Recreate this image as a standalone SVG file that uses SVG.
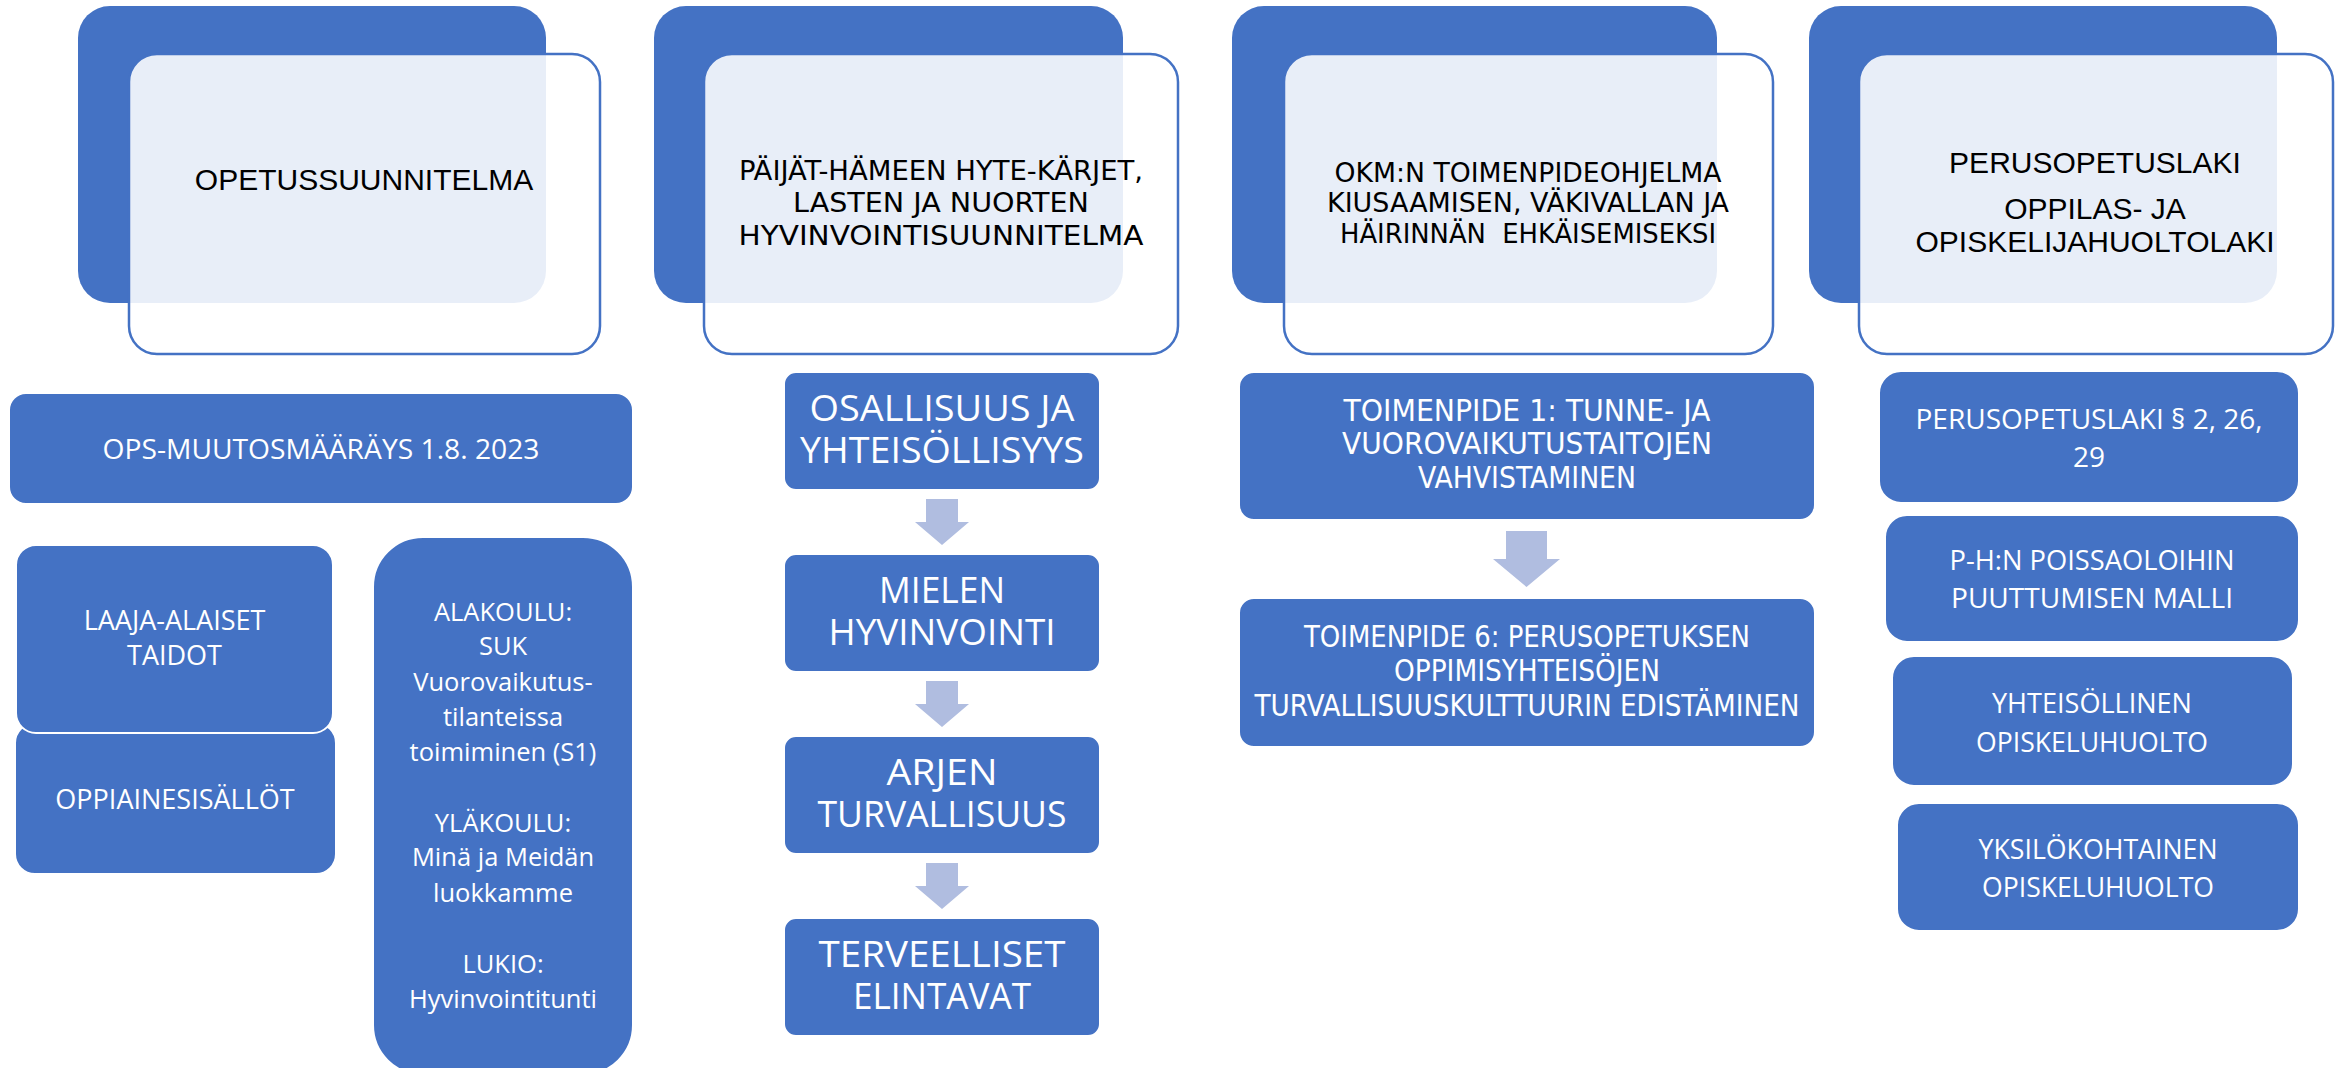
<svg xmlns="http://www.w3.org/2000/svg" width="2341" height="1068" viewBox="0 0 2341 1068">
<style>
.back{fill:#4472C4}
.front{fill:#fff;fill-opacity:.88;stroke:#4472C4;stroke-width:2.5}
.box{fill:#4472C4;stroke:#fff;stroke-width:2}
.arrow{fill:#B0BDE0}
.hdA{font-family:"Liberation Sans",Arial,sans-serif;font-size:30px;fill:#000;text-anchor:middle}
.hdT{font-family:"DejaVu Sans Condensed","DejaVu Sans",sans-serif;font-size:27px;fill:#000;text-anchor:middle}
.wt{font-family:"Open Sans","Noto Sans",sans-serif;fill:#fff;text-anchor:middle}
.s28{font-size:28px}
.s27{font-size:27px}
.s25{font-size:25.5px}
.big{font-family:"Open Sans","Noto Sans",sans-serif;font-size:36px;fill:#fff;text-anchor:middle}
.cond{font-family:"DejaVu Sans Condensed","DejaVu Sans",sans-serif;font-size:30px;fill:#fff;text-anchor:middle}
</style>
<rect width="2341" height="1068" fill="#fff"/>

<g id="ops-header">
<rect class="back" x="78" y="6" width="468" height="297" rx="32"/>
<rect class="front" x="129" y="54" width="471" height="300" rx="28"/>
<text class="hdA" x="364" y="190">OPETUSSUUNNITELMA</text>
</g>

<g id="hyte-header">
<rect class="back" x="654" y="6" width="469" height="297" rx="32"/>
<rect class="front" x="704" y="54" width="474" height="300" rx="28"/>
<text class="hdT" x="941" y="180" textLength="404" lengthAdjust="spacingAndGlyphs">PÄIJÄT-HÄMEEN HYTE-KÄRJET,</text>
<text class="hdT" x="941" y="212" textLength="296" lengthAdjust="spacingAndGlyphs">LASTEN JA NUORTEN</text>
<text class="hdT" x="941" y="245" textLength="405" lengthAdjust="spacingAndGlyphs">HYVINVOINTISUUNNITELMA</text>
</g>

<g id="okm-header">
<rect class="back" x="1232" y="6" width="485" height="297" rx="32"/>
<rect class="front" x="1284" y="54" width="489" height="300" rx="28"/>
<text class="hdT" x="1528" y="182" textLength="387" lengthAdjust="spacingAndGlyphs">OKM:N TOIMENPIDEOHJELMA</text>
<text class="hdT" x="1528" y="212" textLength="402" lengthAdjust="spacingAndGlyphs">KIUSAAMISEN, VÄKIVALLAN JA</text>
<text class="hdT" x="1528" y="243" textLength="376" lengthAdjust="spacingAndGlyphs" xml:space="preserve">HÄIRINNÄN  EHKÄISEMISEKSI</text>
</g>

<g id="laki-header">
<rect class="back" x="1809" y="6" width="468" height="297" rx="32"/>
<rect class="front" x="1859" y="54" width="474" height="300" rx="28"/>
<text class="hdA" x="2095" y="173">PERUSOPETUSLAKI</text>
<text class="hdA" x="2095" y="219">OPPILAS- JA</text>
<text class="hdA" x="2095" y="252">OPISKELIJAHUOLTOLAKI</text>
</g>

<g id="ops-muutos">
<rect class="box" x="9" y="393" width="624" height="111" rx="17"/>
<text class="wt s28" x="321" y="459" textLength="437" lengthAdjust="spacingAndGlyphs">OPS-MUUTOSMÄÄRÄYS 1.8. 2023</text>
</g>

<g id="oppiainesisallot">
<rect class="box" x="15" y="723" width="321" height="151" rx="20"/>
<text class="wt s27" x="175" y="809">OPPIAINESISÄLLÖT</text>
</g>

<g id="laaja-alaiset">
<rect class="box" x="16" y="545" width="317" height="188" rx="20" stroke-width="3"/>
<text class="wt s27" x="174.5" y="630">LAAJA-ALAISET</text>
<text class="wt s27" x="174.5" y="665">TAIDOT</text>
</g>

<g id="kouluasteet">
<rect class="box" x="373" y="537" width="260" height="538" rx="50"/>
<text class="wt s25" x="503" y="621">ALAKOULU:</text>
<text class="wt s25" x="503" y="655">SUK</text>
<text class="wt s25" x="503" y="691">Vuorovaikutus-</text>
<text class="wt s25" x="503" y="726">tilanteissa</text>
<text class="wt s25" x="503" y="761">toimiminen (S1)</text>
<text class="wt s25" x="503" y="832">YLÄKOULU:</text>
<text class="wt s25" x="503" y="866">Minä ja Meidän</text>
<text class="wt s25" x="503" y="902">luokkamme</text>
<text class="wt s25" x="503" y="973">LUKIO:</text>
<text class="wt s25" x="503" y="1008">Hyvinvointitunti</text>
</g>

<g id="osallisuus">
<rect class="box" x="784" y="372" width="316" height="118" rx="12"/>
<text class="big" x="942" y="421" textLength="265" lengthAdjust="spacingAndGlyphs">OSALLISUUS JA</text>
<text class="big" x="942" y="463" textLength="284" lengthAdjust="spacingAndGlyphs">YHTEISÖLLISYYS</text>
</g>
<g id="mielen">
<rect class="box" x="784" y="554" width="316" height="118" rx="12"/>
<text class="big" x="942" y="603" textLength="126" lengthAdjust="spacingAndGlyphs">MIELEN</text>
<text class="big" x="942" y="645" textLength="227" lengthAdjust="spacingAndGlyphs">HYVINVOINTI</text>
</g>
<g id="arjen">
<rect class="box" x="784" y="736" width="316" height="118" rx="12"/>
<text class="big" x="942" y="785" textLength="111" lengthAdjust="spacingAndGlyphs">ARJEN</text>
<text class="big" x="942" y="827" textLength="249" lengthAdjust="spacingAndGlyphs">TURVALLISUUS</text>
</g>
<g id="terveelliset">
<rect class="box" x="784" y="918" width="316" height="118" rx="12"/>
<text class="big" x="942" y="967" textLength="247" lengthAdjust="spacingAndGlyphs">TERVEELLISET</text>
<text class="big" x="942" y="1009" textLength="178" lengthAdjust="spacingAndGlyphs">ELINTAVAT</text>
</g>

<g id="toimenpide1">
<rect class="box" x="1239" y="372" width="576" height="148" rx="15"/>
<text class="cond" x="1527" y="421" textLength="367" lengthAdjust="spacingAndGlyphs">TOIMENPIDE 1: TUNNE- JA</text>
<text class="cond" x="1527" y="454" textLength="370" lengthAdjust="spacingAndGlyphs">VUOROVAIKUTUSTAITOJEN</text>
<text class="cond" x="1527" y="488" textLength="218" lengthAdjust="spacingAndGlyphs">VAHVISTAMINEN</text>
</g>
<g id="toimenpide6">
<rect class="box" x="1239" y="598" width="576" height="149" rx="15"/>
<text class="cond" x="1527" y="647" textLength="446" lengthAdjust="spacingAndGlyphs">TOIMENPIDE 6: PERUSOPETUKSEN</text>
<text class="cond" x="1527" y="681" textLength="266" lengthAdjust="spacingAndGlyphs">OPPIMISYHTEISÖJEN</text>
<text class="cond" x="1527" y="716" textLength="545" lengthAdjust="spacingAndGlyphs">TURVALLISUUSKULTTUURIN EDISTÄMINEN</text>
</g>

<g id="perusopetuslaki-pykalat">
<rect class="box" x="1879" y="371" width="420" height="132" rx="22"/>
<text class="wt s28" x="2089" y="429" textLength="347" lengthAdjust="spacingAndGlyphs">PERUSOPETUSLAKI § 2, 26,</text>
<text class="wt s28" x="2089" y="467">29</text>
</g>
<g id="poissaolot">
<rect class="box" x="1885" y="515" width="414" height="127" rx="22"/>
<text class="wt s28" x="2092" y="570" textLength="285" lengthAdjust="spacingAndGlyphs">P-H:N POISSAOLOIHIN</text>
<text class="wt s28" x="2092" y="608" textLength="282" lengthAdjust="spacingAndGlyphs">PUUTTUMISEN MALLI</text>
</g>
<g id="yhteisollinen">
<rect class="box" x="1892" y="656" width="401" height="130" rx="22"/>
<text class="wt s28" x="2092" y="713" textLength="200" lengthAdjust="spacingAndGlyphs">YHTEISÖLLINEN</text>
<text class="wt s28" x="2092" y="752" textLength="232" lengthAdjust="spacingAndGlyphs">OPISKELUHUOLTO</text>
</g>
<g id="yksilokohtainen">
<rect class="box" x="1897" y="803" width="402" height="128" rx="22"/>
<text class="wt s28" x="2098" y="859" textLength="239" lengthAdjust="spacingAndGlyphs">YKSILÖKOHTAINEN</text>
<text class="wt s28" x="2098" y="897" textLength="232" lengthAdjust="spacingAndGlyphs">OPISKELUHUOLTO</text>
</g>

<g id="connectors">
<path class="arrow" d="M926,499 H958 V522 H969 L942,545 L915,522 H926 Z"/>
<path class="arrow" d="M926,681 H958 V704 H969 L942,727 L915,704 H926 Z"/>
<path class="arrow" d="M926,863 H958 V886 H969 L942,909 L915,886 H926 Z"/>
<path class="arrow" d="M1506,531 H1547 V559 H1560 L1526.5,587 L1493,559 H1506 Z"/>
</g>
</svg>
